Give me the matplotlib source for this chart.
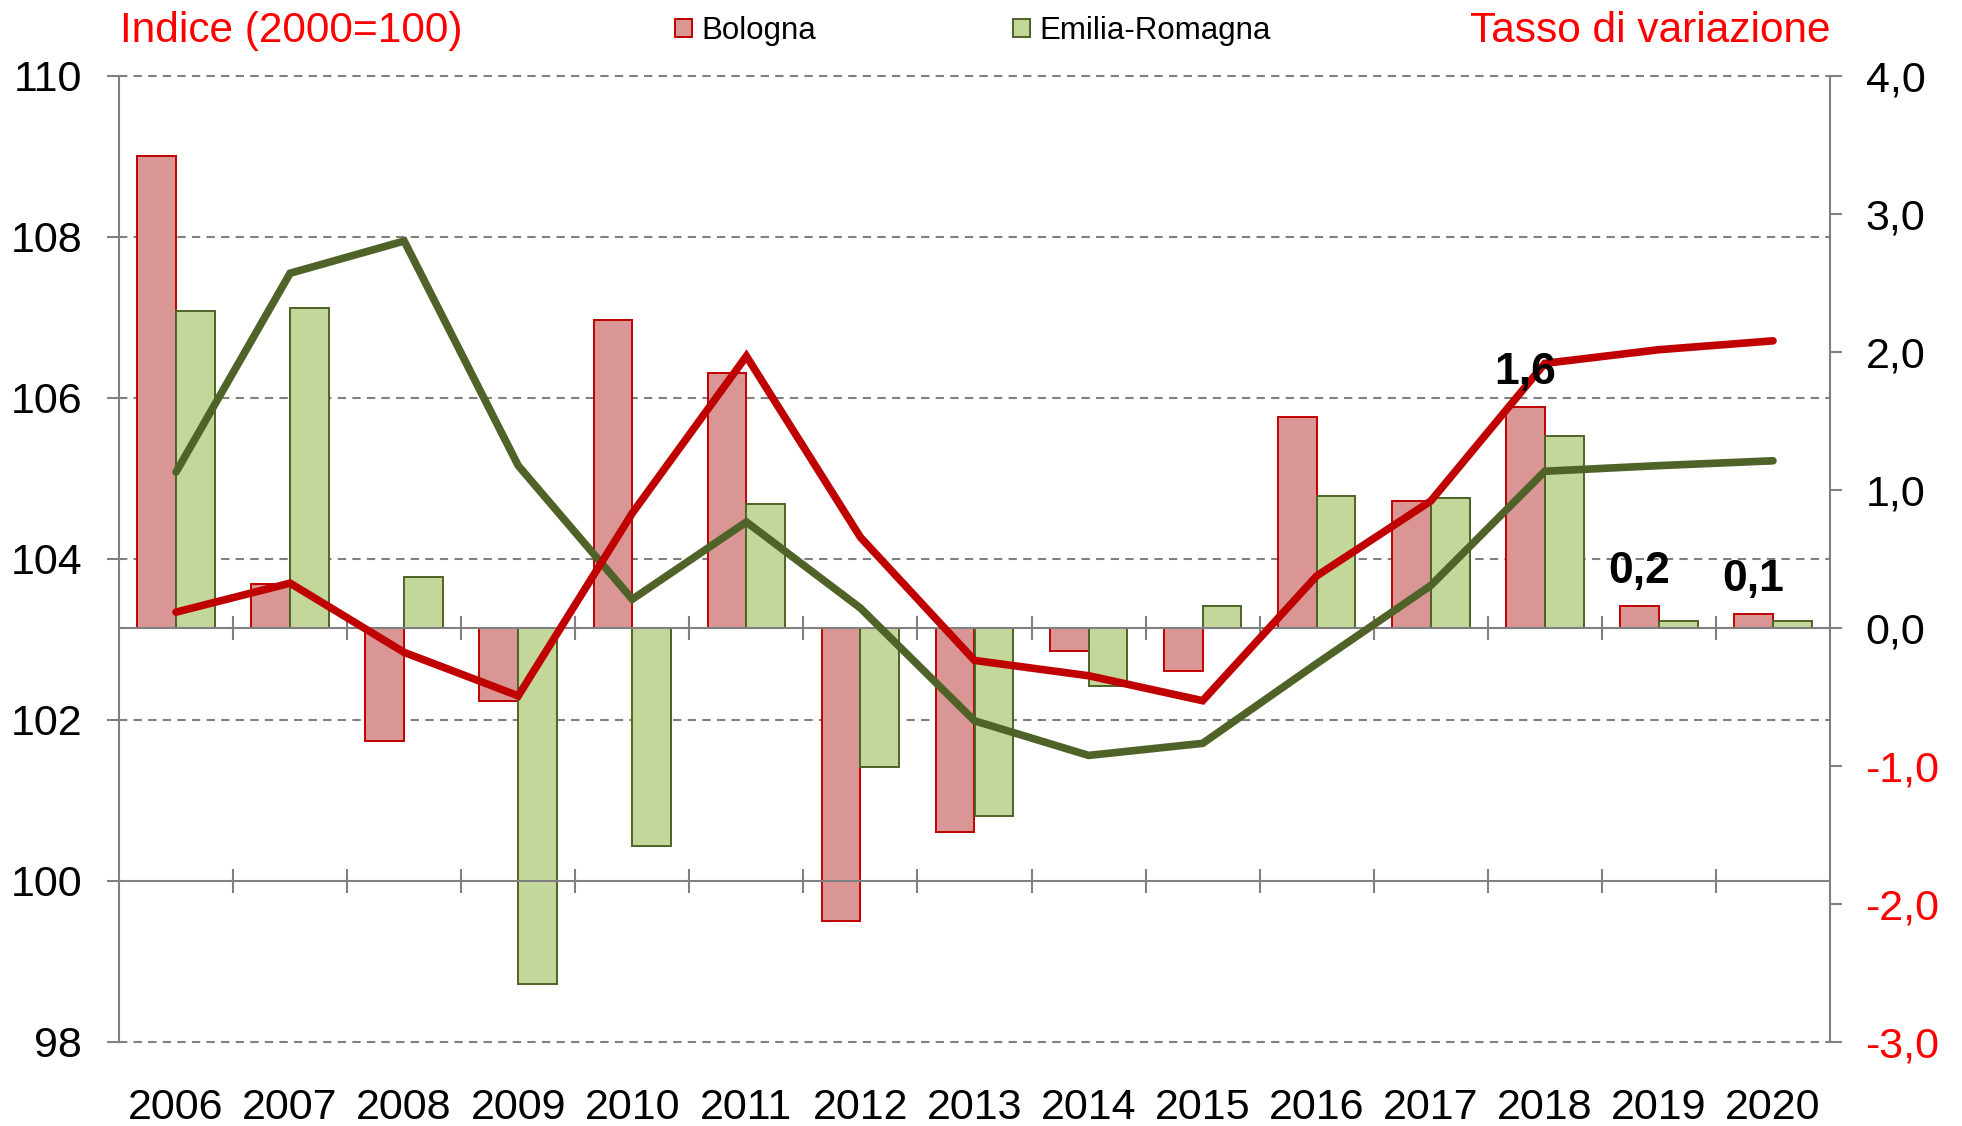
import matplotlib
matplotlib.use("Agg")
import matplotlib.pyplot as plt
import matplotlib.transforms as mtransforms
from matplotlib.patches import Patch
import numpy as np

plt.rcParams["font.family"] = ["Liberation Sans", "DejaVu Sans"]

years = ["2006", "2007", "2008", "2009", "2010", "2011", "2012", "2013",
         "2014", "2015", "2016", "2017", "2018", "2019", "2020"]

# tasso di variazione (%), asse destro
bo_rate = [3.42, 0.32, -0.82, -0.53, 2.23, 1.85, -2.12, -1.48,
           -0.17, -0.31, 1.53, 0.92, 1.60, 0.16, 0.10]
er_rate = [2.30, 2.32, 0.37, -2.58, -1.58, 0.90, -1.01, -1.36,
           -0.42, 0.16, 0.96, 0.94, 1.39, 0.05, 0.05]

# indice 2000=100, asse sinistro
bo_index = [103.34, 103.70, 102.84, 102.30, 104.57, 106.52, 104.27, 102.74,
            102.55, 102.24, 103.79, 104.72, 106.43, 106.60, 106.71]
er_index = [105.08, 107.55, 107.95, 105.16, 103.50, 104.46, 103.39, 101.99,
            101.56, 101.71, 102.70, 103.67, 105.09, 105.16, 105.22]

labelled_years = ["2018", "2019", "2020"]

left_ticks = [98, 100, 102, 104, 106, 108, 110]
right_ticks = [-3, -2, -1, 0, 1, 2, 3, 4]

RED_LINE = "#C00000"
GREEN_LINE = "#4F6228"
RED_FILL = "#D99694"
GREEN_FILL = "#C4D79B"
GRAY = "#808080"
TICK_FS = 31

fig = plt.figure(figsize=(19.62, 11.26), dpi=100)
rect = [119 / 1962, 1 - 1042 / 1126, (1830 - 119) / 1962, (1042 - 76) / 1126]

ax_bars = fig.add_axes(rect, zorder=1)
ax_lines = fig.add_axes(rect, zorder=2)
ax_lines.patch.set_visible(False)

x = np.arange(len(years))
w = 0.34

# barre: tasso di variazione
ax_bars.bar(x - w / 2, bo_rate, width=w, color=RED_FILL, edgecolor=RED_LINE,
            linewidth=1.4, zorder=2)
ax_bars.bar(x + w / 2, er_rate, width=w, color=GREEN_FILL, edgecolor=GREEN_LINE,
            linewidth=1.4, zorder=2)
ax_bars.axhline(0, color=GRAY, lw=1.5, zorder=2.5)
ax_bars.plot(x[1:] - 0.5, np.zeros(len(x) - 1), ls="none", marker="|",
             ms=17, mew=1.5, color=GRAY, zorder=2.5, clip_on=False)

ax_bars.set_xlim(-0.5, len(years) - 0.5)
ax_bars.set_ylim(-3, 4)
ax_bars.set_yticks(right_ticks)
ax_bars.set_yticklabels([f"{v:.1f}".replace(".", ",") for v in right_ticks])
ax_bars.yaxis.tick_right()
ax_bars.tick_params(axis="y", labelsize=TICK_FS, length=8.6, width=1.5,
                    color=GRAY, pad=17)
for lbl, v in zip(ax_bars.get_yticklabels(), right_ticks):
    lbl.set_color("#FF0000" if v < 0 else "black")
ax_bars.set_xticks([])
for side in ["top", "bottom", "left"]:
    ax_bars.spines[side].set_visible(False)
ax_bars.spines["right"].set_color(GRAY)
ax_bars.spines["right"].set_linewidth(1.5)

# griglia dell'asse sinistro, sotto le barre
grid_tr = mtransforms.blended_transform_factory(ax_bars.transAxes, ax_lines.transData)
for v in left_ticks:
    if v == 100:
        continue
    ax_bars.plot([0, 1], [v, v], transform=grid_tr, color=GRAY, lw=1.5,
                 ls=(0, (4, 3)), zorder=0.5, clip_on=False)

# linee: indice
ax_lines.axhline(100, color=GRAY, lw=1.5, zorder=1)
ax_lines.plot(x[1:] - 0.5, np.full(len(x) - 1, 100.0), ls="none", marker="|",
              ms=17, mew=1.5, color=GRAY, zorder=1, clip_on=False)
ax_lines.plot(x, er_index, color=GREEN_LINE, lw=5.5, solid_capstyle="round",
              solid_joinstyle="miter", zorder=3)
ax_lines.plot(x, bo_index, color=RED_LINE, lw=5.5, solid_capstyle="round",
              solid_joinstyle="miter", zorder=3)

ax_lines.set_xlim(-0.5, len(years) - 0.5)
ax_lines.set_ylim(98, 110)
ax_lines.set_yticks(left_ticks)
ax_lines.set_yticklabels([str(v) for v in left_ticks])
ax_lines.tick_params(axis="y", labelsize=TICK_FS, length=8.6, width=1.5,
                     color=GRAY, pad=18)
ax_lines.set_xticks(x)
ax_lines.set_xticklabels(years)
ax_lines.tick_params(axis="x", labelsize=TICK_FS, length=0, pad=33)
for side in ["top", "bottom", "right"]:
    ax_lines.spines[side].set_visible(False)
ax_lines.spines["left"].set_color(GRAY)
ax_lines.spines["left"].set_linewidth(1.5)

# etichette valori Bologna
for yr in labelled_years:
    i = years.index(yr)
    v = bo_rate[i]
    ax_lines.annotate(f"{v:.1f}".replace(".", ","), xy=(x[i] - w / 2, v),
                      xycoords=ax_bars.transData, xytext=(0, 25),
                      textcoords="offset points", ha="center", va="center",
                      fontsize=32, fontweight="bold", zorder=5)

fig.text(120 / 1962, 1 - 42 / 1126, "Indice (2000=100)", color="#FF0000",
         fontsize=30.5, ha="left", va="baseline")
fig.text(1830 / 1962, 1 - 42 / 1126, "Tasso di variazione", color="#FF0000",
         fontsize=30.5, ha="right", va="baseline")

handles = [Patch(facecolor=RED_FILL, edgecolor=RED_LINE, linewidth=1.4),
           Patch(facecolor=GREEN_FILL, edgecolor=GREEN_LINE, linewidth=1.4)]
fig.legend(handles, ["Bologna", "Emilia-Romagna"], ncol=2, frameon=False,
           loc="center left", bbox_to_anchor=(675 / 1962, 1 - 31 / 1126),
           fontsize=22.5, handlelength=0.55, handleheight=0.55, handletextpad=0.3,
           columnspacing=6.3, borderpad=0, borderaxespad=0)

fig.savefig("out.png", dpi=100)
